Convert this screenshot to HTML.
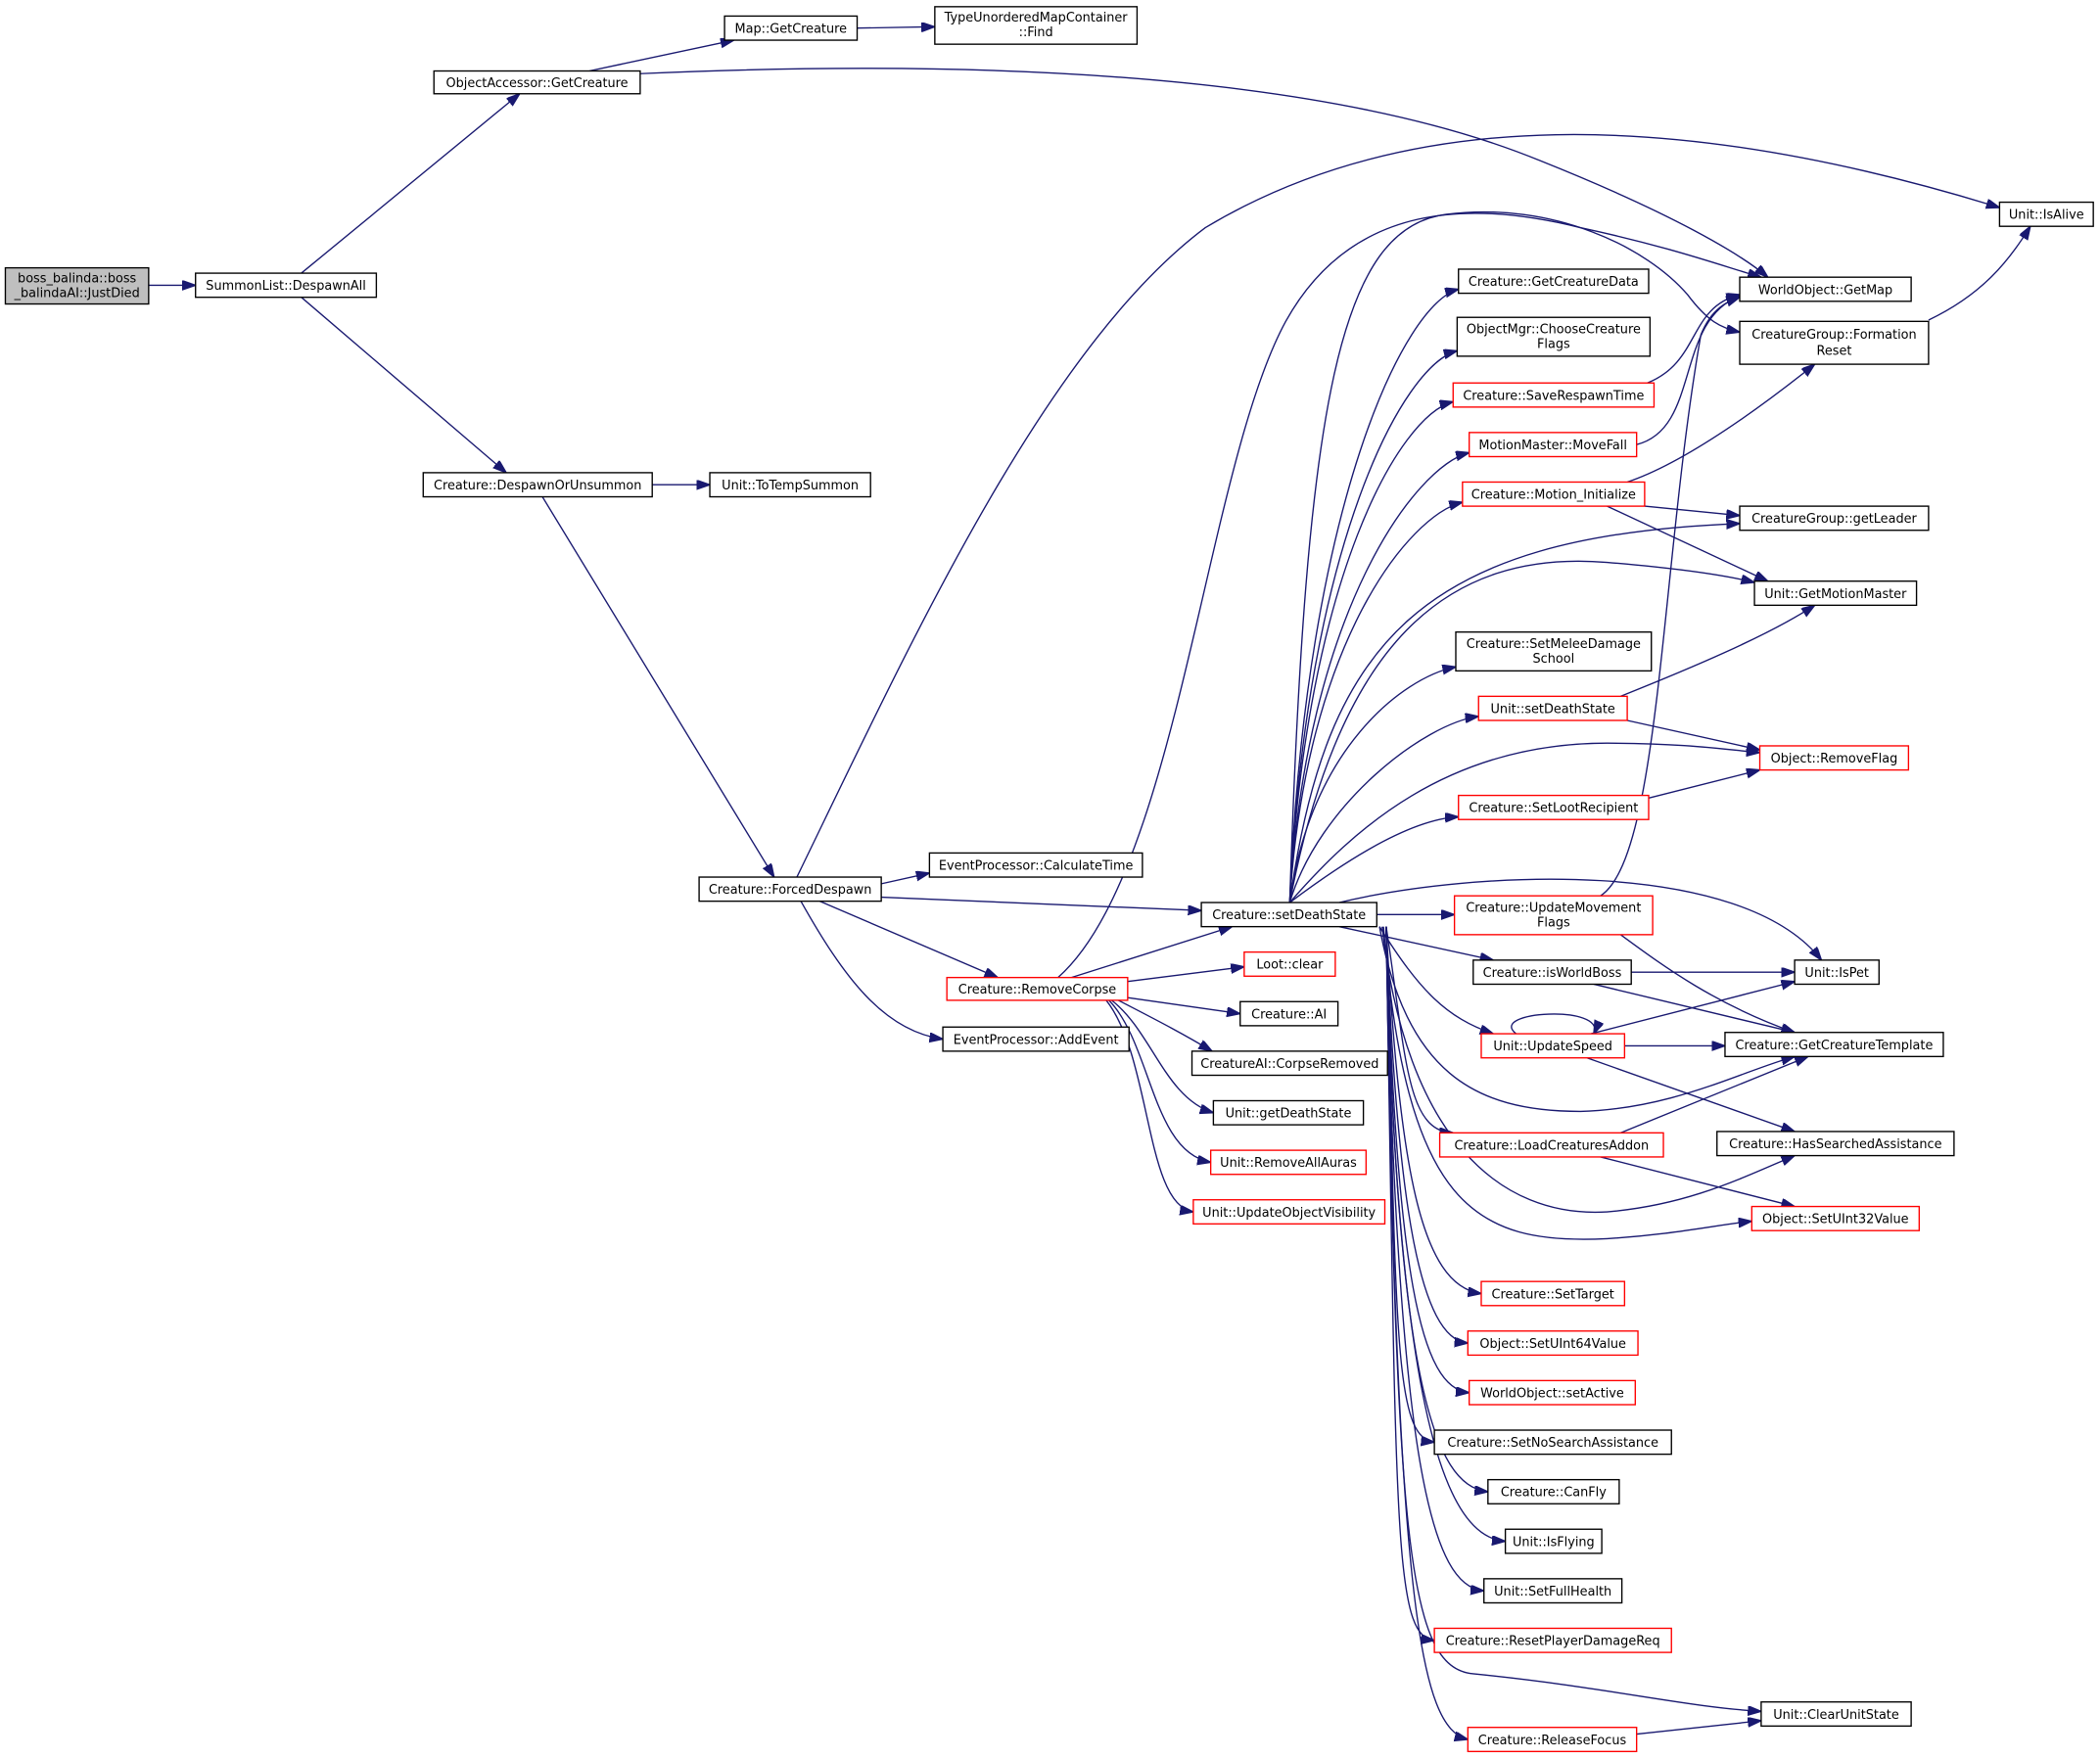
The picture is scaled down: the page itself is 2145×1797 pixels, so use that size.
<!DOCTYPE html>
<html><head><meta charset="utf-8"><style>
html,body{margin:0;padding:0;background:#fff;}
svg{display:block;}
text{font-family:"DejaVu Sans","Liberation Sans",sans-serif;font-size:9.4px;fill:#000;text-anchor:middle;}
.n{fill:#fff;stroke:#000;stroke-width:1;}
.r{fill:#fff;stroke:#ff0000;stroke-width:1;}
.g{fill:#bfbfbf;stroke:#000;stroke-width:1;}
path.e{fill:none;stroke:#191970;stroke-width:1;marker-end:url(#a);}
</style></head><body>
<svg width="2145" height="1797" viewBox="0 0 1568 1313.6" xmlns="http://www.w3.org/2000/svg">
<defs><marker id="a" markerUnits="userSpaceOnUse" markerWidth="10" markerHeight="8" refX="10" refY="3.5" orient="auto"><path d="M0,0 L10,3.5 L0,7 z" fill="#191970" stroke="#191970"/></marker></defs>
<g>
<path class="e" d="M111,213 L146,213"/>
<path class="e" d="M225,204 L388,70"/>
<path class="e" d="M225,222 L378,353"/>
<path class="e" d="M440,53 L548,30"/>
<path class="e" d="M478,55 C700,45 980,50 1150,120 C1250,160 1300,190 1320,207"/>
<path class="e" d="M640,21 L698,20"/>
<path class="e" d="M487,362 L530,362"/>
<path class="e" d="M405,371 L578,655"/>
<path class="e" d="M595,655 C680,480 780,260 900,170 C1050,80 1250,80 1493,155"/>
<path class="e" d="M658,660 L694,652"/>
<path class="e" d="M658,670 L897,680"/>
<path class="e" d="M612,673 L745,730"/>
<path class="e" d="M598,673 C630,730 660,770 704,776"/>
<path class="e" d="M800,730 L920,692"/>
<path class="e" d="M790,730 C880,650 900,350 960,240 C1010,150 1100,150 1180,170 C1250,185 1290,200 1315,207"/>
<path class="e" d="M842,733 L929,722"/>
<path class="e" d="M842,745 L926,757"/>
<path class="e" d="M835,747 C860,760 880,770 905,785"/>
<path class="e" d="M830,747 C860,770 870,820 906,831"/>
<path class="e" d="M828,747 C860,780 860,860 904,868"/>
<path class="e" d="M826,747 C860,790 855,900 891,905"/>
<path class="e" d="M963,674 C975,376 1049,226 1089,216"/>
<path class="e" d="M963,674 C975,406 1048,272 1088,262"/>
<path class="e" d="M963,674 C975,431 1045,310 1085,300"/>
<path class="e" d="M963,674 C975,456 1057,348 1097,338"/>
<path class="e" d="M963,674 C975,479 1052,385 1092,375"/>
<path class="e" d="M963,674 C978,560 1047,506 1087,498"/>
<path class="e" d="M963,674 C985,600 1064,540 1104,535"/>
<path class="e" d="M963,674 C995,650 1049,612 1089,610"/>
<path class="e" d="M963,674 C990,480 1060,400 1299,391"/>
<path class="e" d="M963,674 C1000,480 1080,410 1200,420 C1260,425 1290,430 1310,435"/>
<path class="e" d="M963,674 C1010,620 1080,555 1200,555 C1260,555 1290,560 1314,562"/>
<path class="e" d="M963,674 C975,300 1000,170 1080,160 C1160,150 1230,185 1260,220 C1275,240 1285,245 1299,248"/>
<path class="e" d="M1000,674 C1100,650 1300,640 1360,717"/>
<path class="e" d="M1028,683 L1086,683"/>
<path class="e" d="M1000,692 L1115,717"/>
<path class="e" d="M1030,692 C1060,740 1080,760 1115,772"/>
<path class="e" d="M1035,692 C1050,790 1050,845 1085,846"/>
<path class="e" d="M1035,692 C1045,870 1060,960 1106,966"/>
<path class="e" d="M1035,692 C1043,900 1060,1000 1096,1003"/>
<path class="e" d="M1035,692 C1043,950 1060,1037 1097,1040"/>
<path class="e" d="M1035,692 C1043,990 1040,1074 1071,1077"/>
<path class="e" d="M1035,692 C1043,1030 1070,1110 1111,1114"/>
<path class="e" d="M1035,692 C1043,1060 1080,1148 1124,1151"/>
<path class="e" d="M1035,692 C1043,1100 1070,1185 1108,1188"/>
<path class="e" d="M1035,692 C1043,1140 1040,1222 1071,1225"/>
<path class="e" d="M1035,692 C1043,1200 1060,1290 1096,1299"/>
<path class="e" d="M1035,692 C1043,1150 1050,1245 1100,1250 C1200,1260 1260,1275 1315,1278"/>
<path class="e" d="M1030,692 C1050,800 1100,830 1180,830 C1250,828 1300,800 1340,789"/>
<path class="e" d="M1032,692 C1050,850 1120,910 1200,905 C1260,900 1300,880 1340,863"/>
<path class="e" d="M1033,692 C1050,900 1100,930 1200,925 C1250,922 1280,915 1308,912"/>
<path class="e" d="M1230,286 C1270,270 1260,230 1299,220"/>
<path class="e" d="M1222,332 C1270,320 1250,240 1299,221"/>
<path class="e" d="M1215,360 C1260,345 1320,300 1355,272"/>
<path class="e" d="M1228,378 L1299,385"/>
<path class="e" d="M1200,378 L1320,434"/>
<path class="e" d="M1210,520 C1260,500 1320,475 1355,452"/>
<path class="e" d="M1215,538 L1314,560"/>
<path class="e" d="M1231,596 L1314,575"/>
<path class="e" d="M1195,669 C1240,640 1240,420 1270,250 C1278,230 1290,225 1299,222"/>
<path class="e" d="M1210,698 C1240,720 1280,750 1340,771"/>
<path class="e" d="M1218,726 L1340,726"/>
<path class="e" d="M1190,735 L1340,771"/>
<path class="e" d="M1132,772 C1110,755 1200,750 1190,772"/>
<path class="e" d="M1188,772 L1340,733"/>
<path class="e" d="M1213,781 L1288,781"/>
<path class="e" d="M1185,790 L1340,845"/>
<path class="e" d="M1210,846 L1350,789"/>
<path class="e" d="M1195,864 L1340,901"/>
<path class="e" d="M1222,1295 L1315,1285"/>
<path class="e" d="M1440,239 C1480,220 1500,195 1516,169"/>
</g>
<g>
<rect class="g" x="4" y="200" width="107" height="27"/><text x="57.5" y="211">boss_balinda::boss</text><text x="57.5" y="222">_balindaAI::JustDied</text>
<rect class="n" x="146" y="204" width="135" height="18"/><text x="213.5" y="216.5">SummonList::DespawnAll</text>
<rect class="n" x="324" y="53" width="154" height="17"/><text x="401" y="65">ObjectAccessor::GetCreature</text>
<rect class="n" x="541" y="12" width="99" height="18"/><text x="590.5" y="24.5">Map::GetCreature</text>
<rect class="n" x="698" y="5" width="151" height="28"/><text x="773.5" y="16">TypeUnorderedMapContainer</text><text x="773.5" y="27">::Find</text>
<rect class="n" x="316" y="353" width="171" height="18"/><text x="401.5" y="365.5">Creature::DespawnOrUnsummon</text>
<rect class="n" x="530" y="353" width="120" height="18"/><text x="590" y="365.5">Unit::ToTempSummon</text>
<rect class="n" x="522" y="655" width="136" height="18"/><text x="590" y="667.5">Creature::ForcedDespawn</text>
<rect class="n" x="694" y="637" width="159" height="18"/><text x="773.5" y="649.5">EventProcessor::CalculateTime</text>
<rect class="n" x="704" y="767" width="139" height="18"/><text x="773.5" y="779.5">EventProcessor::AddEvent</text>
<rect class="r" x="707" y="730" width="135" height="17"/><text x="774.5" y="742">Creature::RemoveCorpse</text>
<rect class="n" x="897" y="674" width="131" height="18"/><text x="962.5" y="686.5">Creature::setDeathState</text>
<rect class="r" x="929" y="711" width="68" height="18"/><text x="963" y="723.5">Loot::clear</text>
<rect class="n" x="926" y="748" width="73" height="18"/><text x="962.5" y="760.5">Creature::AI</text>
<rect class="n" x="890" y="785" width="146" height="18"/><text x="963" y="797.5">CreatureAI::CorpseRemoved</text>
<rect class="n" x="906" y="822" width="112" height="18"/><text x="962" y="834.5">Unit::getDeathState</text>
<rect class="r" x="904" y="859" width="116" height="18"/><text x="962" y="871.5">Unit::RemoveAllAuras</text>
<rect class="r" x="891" y="896" width="143" height="18"/><text x="962.5" y="908.5">Unit::UpdateObjectVisibility</text>
<rect class="n" x="1089" y="201" width="142" height="18"/><text x="1160" y="213.5">Creature::GetCreatureData</text>
<rect class="n" x="1088" y="237" width="144" height="29"/><text x="1160" y="249">ObjectMgr::ChooseCreature</text><text x="1160" y="260">Flags</text>
<rect class="r" x="1085" y="286" width="150" height="18"/><text x="1160" y="298.5">Creature::SaveRespawnTime</text>
<rect class="r" x="1097" y="323" width="125" height="18"/><text x="1159.5" y="335.5">MotionMaster::MoveFall</text>
<rect class="r" x="1092" y="360" width="136" height="18"/><text x="1160" y="372.5">Creature::Motion_Initialize</text>
<rect class="n" x="1087" y="472" width="146" height="29"/><text x="1160" y="484">Creature::SetMeleeDamage</text><text x="1160" y="495">School</text>
<rect class="r" x="1104" y="520" width="111" height="18"/><text x="1159.5" y="532.5">Unit::setDeathState</text>
<rect class="r" x="1089" y="594" width="142" height="18"/><text x="1160" y="606.5">Creature::SetLootRecipient</text>
<rect class="r" x="1086" y="669" width="148" height="29"/><text x="1160" y="681">Creature::UpdateMovement</text><text x="1160" y="692">Flags</text>
<rect class="n" x="1100" y="717" width="118" height="18"/><text x="1159" y="729.5">Creature::isWorldBoss</text>
<rect class="r" x="1106" y="772" width="107" height="18"/><text x="1159.5" y="784.5">Unit::UpdateSpeed</text>
<rect class="r" x="1075" y="846" width="167" height="18"/><text x="1158.5" y="858.5">Creature::LoadCreaturesAddon</text>
<rect class="r" x="1106" y="957" width="107" height="18"/><text x="1159.5" y="969.5">Creature::SetTarget</text>
<rect class="r" x="1096" y="994" width="127" height="18"/><text x="1159.5" y="1006.5">Object::SetUInt64Value</text>
<rect class="r" x="1097" y="1031" width="124" height="18"/><text x="1159" y="1043.5">WorldObject::setActive</text>
<rect class="n" x="1071" y="1068" width="177" height="18"/><text x="1159.5" y="1080.5">Creature::SetNoSearchAssistance</text>
<rect class="n" x="1111" y="1105" width="98" height="18"/><text x="1160" y="1117.5">Creature::CanFly</text>
<rect class="n" x="1124" y="1142" width="72" height="18"/><text x="1160" y="1154.5">Unit::IsFlying</text>
<rect class="n" x="1108" y="1179" width="103" height="18"/><text x="1159.5" y="1191.5">Unit::SetFullHealth</text>
<rect class="r" x="1071" y="1216" width="177" height="18"/><text x="1159.5" y="1228.5">Creature::ResetPlayerDamageReq</text>
<rect class="r" x="1096" y="1290" width="126" height="18"/><text x="1159" y="1302.5">Creature::ReleaseFocus</text>
<rect class="n" x="1493" y="151" width="70" height="18"/><text x="1528" y="163.5">Unit::IsAlive</text>
<rect class="n" x="1299" y="207" width="128" height="18"/><text x="1363" y="219.5">WorldObject::GetMap</text>
<rect class="n" x="1299" y="240" width="141" height="32"/><text x="1369.5" y="253">CreatureGroup::Formation</text><text x="1369.5" y="265">Reset</text>
<rect class="n" x="1299" y="378" width="141" height="18"/><text x="1369.5" y="390.5">CreatureGroup::getLeader</text>
<rect class="n" x="1310" y="434" width="121" height="18"/><text x="1370.5" y="446.5">Unit::GetMotionMaster</text>
<rect class="r" x="1314" y="557" width="111" height="18"/><text x="1369.5" y="569.5">Object::RemoveFlag</text>
<rect class="n" x="1340" y="717" width="63" height="18"/><text x="1371.5" y="729.5">Unit::IsPet</text>
<rect class="n" x="1288" y="771" width="163" height="18"/><text x="1369.5" y="783.5">Creature::GetCreatureTemplate</text>
<rect class="n" x="1282" y="845" width="177" height="18"/><text x="1370.5" y="857.5">Creature::HasSearchedAssistance</text>
<rect class="r" x="1308" y="901" width="125" height="18"/><text x="1370.5" y="913.5">Object::SetUInt32Value</text>
<rect class="n" x="1315" y="1271" width="112" height="18"/><text x="1371" y="1283.5">Unit::ClearUnitState</text>
</g>
</svg>
</body></html>
